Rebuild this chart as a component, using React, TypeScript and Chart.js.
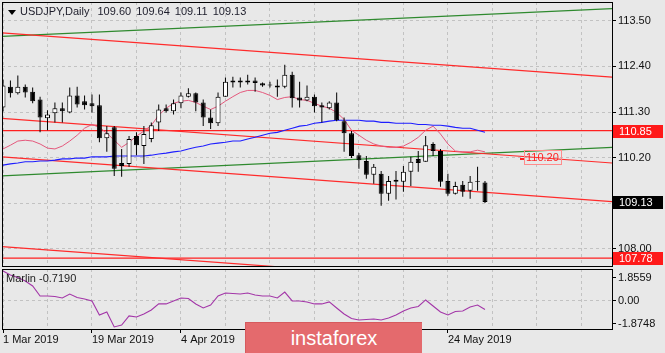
import React, { useEffect, useRef } from "react";
import { Chart, registerables } from "chart.js";

Chart.register(...registerables);

// ---------- data ----------
const opens = [111.41, 111.91, 111.75, 111.91, 111.79, 111.60, 111.15, 111.27, 111.39, 111.29, 111.70, 111.56, 111.51, 111.46, 110.67, 110.93, 110.07, 110.05, 110.72, 110.48, 110.65, 111.05, 111.39, 111.32, 111.51, 111.67, 111.75, 111.53, 111.17, 111.03, 111.67, 112.01, 112.06, 112.01, 112.06, 111.99, 111.96, 111.94, 111.91, 112.20, 111.65, 111.58, 111.67, 111.46, 111.39, 111.53, 111.08, 110.79, 110.26, 110.12, 109.79, 109.81, 109.33, 109.67, 109.62, 109.86, 110.17, 110.10, 110.53, 110.36, 109.64, 109.33, 109.55, 109.40, 109.64, 109.60];
const highs = [112.08, 112.06, 112.18, 111.96, 111.89, 111.67, 111.34, 111.53, 111.53, 111.89, 111.91, 111.70, 111.72, 111.72, 110.96, 110.96, 110.41, 110.72, 110.81, 110.96, 111.05, 111.48, 111.48, 111.60, 111.77, 111.87, 111.77, 111.60, 111.36, 111.77, 112.13, 112.15, 112.13, 112.20, 112.13, 112.01, 112.03, 112.08, 112.44, 112.27, 112.03, 111.94, 111.72, 111.53, 111.56, 111.77, 111.17, 110.84, 110.31, 110.24, 110.05, 109.88, 109.76, 109.88, 110.00, 110.22, 110.36, 110.72, 110.57, 110.41, 109.81, 109.62, 109.64, 109.76, 109.98, 109.64];
const lows = [111.32, 111.65, 111.72, 111.65, 111.51, 110.81, 110.86, 111.05, 111.05, 111.27, 111.41, 111.36, 111.29, 110.57, 110.34, 109.76, 109.74, 109.98, 110.26, 110.05, 110.57, 110.84, 111.29, 111.24, 111.39, 111.65, 111.32, 110.96, 110.89, 110.96, 111.67, 111.89, 111.89, 111.96, 111.79, 111.91, 111.89, 111.67, 111.87, 111.41, 111.41, 111.56, 111.29, 111.05, 111.36, 111.08, 110.34, 110.19, 109.93, 109.69, 109.57, 109.04, 109.16, 109.19, 109.38, 109.52, 109.86, 110.10, 110.24, 109.50, 109.28, 109.31, 109.26, 109.21, 109.40, 109.11];
const closes = [111.94, 111.75, 111.91, 111.77, 111.56, 111.17, 111.24, 111.39, 111.32, 111.70, 111.48, 111.46, 111.44, 110.67, 110.79, 109.93, 110.00, 110.65, 110.50, 110.77, 110.98, 111.36, 111.32, 111.51, 111.70, 111.75, 111.53, 111.17, 111.03, 111.67, 112.03, 112.06, 112.01, 112.06, 112.00, 111.94, 111.94, 111.89, 112.20, 111.63, 111.58, 111.67, 111.44, 111.41, 111.53, 111.10, 110.79, 110.24, 110.14, 109.79, 109.98, 109.33, 109.64, 109.62, 109.86, 110.10, 110.07, 110.50, 110.36, 109.62, 109.33, 109.52, 109.38, 109.62, 109.62, 109.13];
const fastMA = [110.41, 110.50, 110.60, 110.62, 110.60, 110.53, 110.43, 110.41, 110.48, 110.60, 110.74, 110.91, 111.00, 110.93, 110.79, 110.62, 110.45, 110.57, 110.72, 110.84, 110.98, 111.22, 111.39, 111.51, 111.56, 111.58, 111.53, 111.44, 111.36, 111.44, 111.56, 111.67, 111.77, 111.82, 111.82, 111.77, 111.70, 111.60, 111.65, 111.67, 111.60, 111.58, 111.51, 111.44, 111.39, 111.29, 111.12, 110.86, 110.74, 110.62, 110.53, 110.48, 110.45, 110.45, 110.48, 110.57, 110.69, 110.86, 110.96, 110.77, 110.53, 110.36, 110.34, 110.34, 110.38, 110.34];
const slowMA = [110.02, 110.05, 110.07, 110.10, 110.10, 110.12, 110.12, 110.14, 110.17, 110.17, 110.19, 110.19, 110.22, 110.22, 110.22, 110.24, 110.24, 110.24, 110.24, 110.24, 110.26, 110.29, 110.31, 110.34, 110.36, 110.41, 110.45, 110.48, 110.53, 110.55, 110.57, 110.60, 110.60, 110.65, 110.69, 110.74, 110.79, 110.81, 110.86, 110.91, 110.96, 110.98, 111.03, 111.05, 111.08, 111.10, 111.10, 111.10, 111.10, 111.08, 111.08, 111.05, 111.05, 111.03, 111.03, 111.03, 111.00, 111.00, 110.98, 110.98, 110.96, 110.93, 110.91, 110.91, 110.86, 110.81];
const marlin = [2.39, 2.07, 1.87, 1.58, 1.18, 0.37, 0.37, 0.33, 0.21, 0.53, 0.25, 0.13, -0.03, -1.16, -0.92, -2.13, -1.97, -1.24, -1.33, -1.08, -0.76, -0.27, -0.27, -0.03, 0.21, 0.17, -0.27, -0.60, -0.36, 0.37, 0.61, 0.57, 0.53, 0.61, 0.45, 0.37, 0.37, 0.21, 0.69, -0.03, -0.03, -0.11, -0.27, -0.27, -0.11, -0.60, -1.08, -1.45, -1.57, -1.53, -1.49, -1.57, -1.41, -1.16, -0.84, -0.60, -0.48, 0.05, -0.44, -0.92, -1.16, -0.88, -0.84, -0.52, -0.36, -0.72];

const priceTicks = [108.0, 109.1, 110.2, 111.3, 112.4, 113.5];
const marlinTicks = [-1.8748, 0, 1.8559];
const gridBars = [0, 6, 12, 18, 24, 30, 36, 42, 48, 54, 60, 66, 72, 78];
const dateBars = [0, 12, 24, 36, 48, 60];
const dateLabels = ["1 Mar 2019", "19 Mar 2019", "4 Apr 2019", "22 Apr 2019", "8 May 2019", "24 May 2019"];

// trend lines: value at the left edge bar and at the right edge bar
const trendStartBar = -0.4;
const trendEndBar = 82.2;
const redTrendStart = [113.21, 111.15, 110.22, 108.06];
const redTrendEnd = [112.14, 110.07, 109.14, 106.98];
const greenTrendStart = [113.12, 109.76];
const greenTrendEnd = [113.79, 110.45];
const levels = [110.85, 107.78];
const markedPrices = [110.85, 109.13, 107.78];
const channelLabelValue = 110.2;
const channelLabelBar = 70.2;

const headerSymbol = "USDJPY,Daily";
const headerValues = ["109.60", "109.64", "109.11", "109.13"];
const marlinName = "Marlin";
const marlinLast = "-0.7190";

// ---------- styling ----------
const FONT = "'Liberation Sans', Arial, sans-serif";
const BG = "#e8e8e8";
const GRID = "#c2c2c2";
const X_MIN = -0.135;
const X_MAX = 82.13;
const markColors = ["#ff1a1a", "#000000", "#ff1a1a"];

export default function App() {
  const mainRef = useRef<HTMLCanvasElement>(null);
  const oscRef = useRef<HTMLCanvasElement>(null);

  useEffect(() => {
    Chart.defaults.font.family = FONT;
    Chart.defaults.font.size = 11;
    Chart.defaults.color = "#000";

    const idx = closes.map((_, i) => i);
    const bodyData = idx.map((i) => ({ x: i, y: [opens[i], closes[i]] }));
    const wickData = idx.map((i) => ({ x: i, y: [lows[i], highs[i]] }));
    const bodyColors = idx.map((i) => (closes[i] >= opens[i] ? "#ffffff" : "#000000"));

    const line = (data: any[], color: string, width: number, order: number) => ({
      type: "line" as const,
      data,
      borderColor: color,
      borderWidth: width,
      pointRadius: 0,
      pointHoverRadius: 0,
      fill: false,
      tension: 0,
      order,
    });

    const trendSets: any[] = [];
    redTrendStart.forEach((v, k) =>
      trendSets.push(line([{ x: trendStartBar, y: v }, { x: trendEndBar, y: redTrendEnd[k] }], "#ff2b2b", 1.2, 3))
    );
    greenTrendStart.forEach((v, k) =>
      trendSets.push(line([{ x: trendStartBar, y: v }, { x: trendEndBar, y: greenTrendEnd[k] }], "#2f8a2f", 1.2, 3))
    );
    levels.forEach((v) =>
      trendSets.push(line([{ x: trendStartBar, y: v }, { x: trendEndBar, y: v }], "#ff2020", 1.2, 3))
    );

    const framePlugin = {
      id: "frame",
      afterDraw(chart: any) {
        const { ctx, chartArea } = chart;
        const { left, top, right, bottom } = chartArea;
        ctx.save();
        ctx.strokeStyle = "#000";
        ctx.lineWidth = 1;
        ctx.setLineDash([]);
        ctx.strokeRect(left + 0.5, top + 0.5, right - left, bottom - top);
        ctx.restore();
      },
    };

    const mainOverlay = {
      id: "mainOverlay",
      afterDraw(chart: any) {
        const { ctx, chartArea, scales } = chart;
        const y = scales.y;
        const x = scales.x;
        ctx.save();
        ctx.font = `11px ${FONT}`;
        ctx.textBaseline = "middle";
        ctx.textAlign = "left";
        markedPrices.forEach((v, k) => {
          const py = Math.round(y.getPixelForValue(v));
          ctx.fillStyle = markColors[k];
          ctx.fillRect(chartArea.right + 1, py - 6, 50, 13);
          ctx.fillStyle = "#ffffff";
          ctx.fillText(v.toFixed(2), chartArea.right + 7, py + 0.5);
        });
        // in-chart price label
        const lx = Math.round(x.getPixelForValue(channelLabelBar));
        const ly = Math.round(y.getPixelForValue(channelLabelValue));
        ctx.fillStyle = "#ff2020";
        ctx.fillRect(lx - 4, ly, 5, 2);
        ctx.strokeStyle = "#ff8c8c";
        ctx.lineWidth = 1;
        ctx.strokeRect(lx + 0.5, ly - 7.5, 37, 14);
        ctx.fillStyle = "#ff2424";
        ctx.fillText(channelLabelValue.toFixed(2), lx + 2, ly);
        ctx.restore();
      },
    };

    const xScale = (showLabels: boolean) => ({
      type: "linear" as const,
      min: X_MIN,
      max: X_MAX,
      offset: false,
      afterBuildTicks: (s: any) => {
        s.ticks = gridBars.map((v) => ({ value: v }));
      },
      afterFit: (s: any) => {
        s.height = showLabels ? 24 : 0;
        s.paddingLeft = 0;
        s.paddingRight = 0;
      },
      grid: {
        color: GRID,
        lineWidth: 1,
        offset: false,
        drawTicks: showLabels,
        tickLength: 4,
        tickColor: (c: any) => (c.tick && dateBars.includes(c.tick.value) ? "#000" : "rgba(0,0,0,0)"),
        tickBorderDash: [],
      },
      border: { display: false, dash: [3, 3] },
      ticks: {
        display: showLabels,
        autoSkip: false,
        maxRotation: 0,
        minRotation: 0,
        align: "start" as const,
        padding: 0,
        color: "#111",
        font: { size: 11, family: FONT },
        callback: (v: any) => {
          const k = dateBars.indexOf(Number(v));
          return k >= 0 ? dateLabels[k] : "";
        },
      },
    });

    const main = new Chart(mainRef.current as HTMLCanvasElement, {
      type: "bar",
      data: {
        datasets: [
          {
            type: "bar",
            data: bodyData as any,
            backgroundColor: bodyColors,
            borderColor: "#000",
            borderWidth: 1,
            borderSkipped: false,
            barThickness: 5,
            grouped: false,
            inflateAmount: 0,
            order: 0,
          } as any,
          {
            type: "bar",
            data: wickData as any,
            backgroundColor: "#000",
            borderWidth: 0,
            barThickness: 1,
            grouped: false,
            inflateAmount: 0,
            order: 1,
          } as any,
          line(idx.map((i) => ({ x: i, y: fastMA[i] })), "#e4587c", 1, 2),
          line(idx.map((i) => ({ x: i, y: slowMA[i] })), "#1e1eff", 1.1, 2),
          ...trendSets,
        ],
      },
      options: {
        responsive: false,
        animation: false,
        events: [],
        layout: { padding: { left: 2, top: 2, right: 0, bottom: 2 } },
        plugins: { legend: { display: false }, tooltip: { enabled: false } },
        scales: {
          x: xScale(false) as any,
          y: {
            type: "linear",
            position: "right",
            min: 107.59,
            max: 113.95,
            beginAtZero: false,
            afterBuildTicks: (s: any) => {
              s.ticks = priceTicks.map((v) => ({ value: v }));
            },
            afterFit: (s: any) => {
              s.width = 53;
              s.paddingTop = 0;
              s.paddingBottom = 0;
            },
            grid: { color: GRID, lineWidth: 1, tickLength: 4, tickColor: "#000", tickBorderDash: [] },
            border: { display: false, dash: [3, 3] },
            ticks: {
              padding: 2,
              color: "#111",
              font: { size: 11, family: FONT },
              callback: (v: any) => Number(v).toFixed(2),
            },
          } as any,
        },
      },
      plugins: [framePlugin, mainOverlay],
    });

    const osc = new Chart(oscRef.current as HTMLCanvasElement, {
      type: "line",
      data: {
        datasets: [
          {
            data: idx.map((i) => ({ x: i, y: marlin[i] })),
            borderColor: "#a336a8",
            borderWidth: 1.1,
            pointRadius: 0,
            pointHoverRadius: 0,
            fill: false,
            tension: 0,
          },
        ],
      },
      options: {
        responsive: false,
        animation: false,
        events: [],
        layout: { padding: { left: 2, top: 1, right: 0, bottom: 0 } },
        plugins: { legend: { display: false }, tooltip: { enabled: false } },
        scales: {
          x: xScale(true) as any,
          y: {
            type: "linear",
            position: "right",
            min: -2.295,
            max: 2.55,
            afterBuildTicks: (s: any) => {
              s.ticks = marlinTicks.map((v) => ({ value: v }));
            },
            afterFit: (s: any) => {
              s.width = 53;
              s.paddingTop = 0;
              s.paddingBottom = 0;
            },
            grid: {
              color: (c: any) => (c.tick && c.tick.value === 0 ? GRID : "rgba(0,0,0,0)"),
              lineWidth: 1,
              tickLength: 4,
              tickColor: "#000",
              tickBorderDash: [],
            },
            border: { display: false, dash: [3, 3] },
            ticks: {
              padding: 2,
              color: "#111",
              font: { size: 11, family: FONT },
              callback: (v: any) => (Number(v) === 0 ? Number(v).toFixed(2) : Number(v).toFixed(4)),
            },
          } as any,
        },
      },
      plugins: [framePlugin],
    });

    return () => {
      main.destroy();
      osc.destroy();
    };
  }, []);

  return (
    <div
      style={{
        position: "fixed",
        left: 0,
        top: 0,
        width: 665,
        height: 353,
        background: BG,
        overflow: "hidden",
        fontFamily: FONT,
      }}
    >
      <canvas ref={mainRef} width={665} height={268} style={{ position: "absolute", left: 0, top: 0 }} />
      <canvas ref={oscRef} width={665} height={85} style={{ position: "absolute", left: 0, top: 268 }} />
      <div
        style={{
          position: "absolute",
          left: 8,
          top: 10,
          width: 0,
          height: 0,
          borderLeft: "4px solid transparent",
          borderRight: "4px solid transparent",
          borderTop: "5px solid #000",
        }}
      />
      <div
        style={{
          position: "absolute",
          left: 20,
          top: 5,
          fontSize: 11,
          lineHeight: "13px",
          color: "#1d1d2b",
          whiteSpace: "pre",
          display: "flex",
        }}
      >
        <span>{headerSymbol}</span>
        {headerValues.map((v, i) => (
          <span key={i} style={{ marginLeft: i === 0 ? 8 : 5 }}>
            {v}
          </span>
        ))}
      </div>
      <div
        style={{
          position: "absolute",
          left: 6,
          top: 272,
          fontSize: 11,
          lineHeight: "13px",
          color: "#1d1d1d",
          whiteSpace: "pre",
        }}
      >
        {marlinName + " " + marlinLast}
      </div>
      <div
        style={{
          position: "absolute",
          left: 245,
          top: 322,
          width: 177,
          height: 40,
          background: "#e46a6d",
          borderTop: "1px solid #d65a5e",
          borderLeft: "1px solid #d65a5e",
          boxSizing: "border-box",
          color: "#ffffff",
          fontSize: 20,
          lineHeight: "30px",
          textAlign: "center",
        }}
      >
        instaforex
      </div>
    </div>
  );
}
